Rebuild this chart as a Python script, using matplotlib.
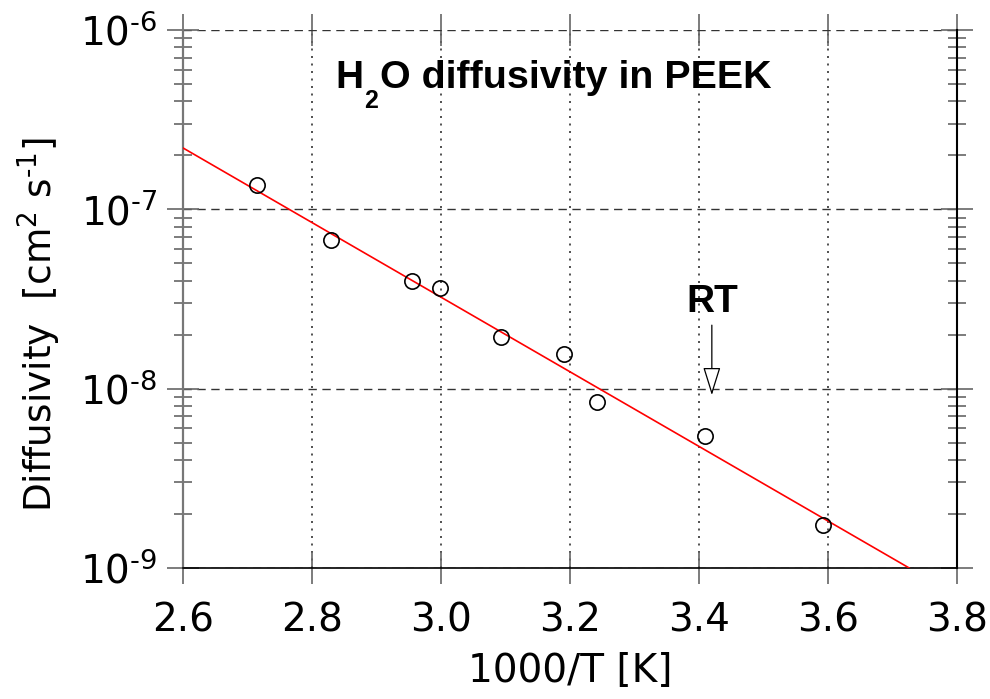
import numpy as np
import matplotlib.pyplot as plt
from matplotlib.ticker import LogLocator, NullFormatter, NullLocator, FixedLocator, FixedFormatter

# water diffusivity in PEEK vs inverse temperature (Arrhenius plot)
inv_T = [2.715, 2.829, 2.955, 2.998, 3.093, 3.191, 3.242, 3.409, 3.592]
diffusivity = [1.37e-7, 6.74e-8, 3.98e-8, 3.64e-8, 1.94e-8, 1.56e-8, 8.4e-9, 5.45e-9, 1.73e-9]

# arrhenius fit line end points
fit_inv_T = [2.6, 3.726]
fit_D = [2.2e-7, 1.0e-9]

x_ticks = [2.6, 2.8, 3.0, 3.2, 3.4, 3.6, 3.8]
x_ticklabels = ["2.6", "2.8", "3.0", "3.2", "3.4", "3.6", "3.8"]
y_ticks = [1e-9, 1e-8, 1e-7, 1e-6]
y_ticklabels = ["$10^{\u2010 9}$", "$10^{\u2010 8}$", "$10^{\u2010 7}$", "$10^{\u2010 6}$"]
rt_inv_T = 3.42

fig = plt.figure(figsize=(9.9, 6.99), dpi=100)
ax = fig.add_axes([0.1848, 0.1874, 0.7818, 0.7697])

ax.set_yscale("log")
ax.set_xlim(2.6, 3.8)
ax.set_ylim(1e-9, 1e-6)

ax.plot(fit_inv_T, fit_D, color="red", lw=1.2, zorder=3)
ax.plot(inv_T, diffusivity, "o", mfc="none", mec="black", ms=11, mew=1.2, zorder=4)

# grid: dashed horizontals, dotted verticals
ax.grid(axis="y", which="major", ls=(0, (6, 4)), color="#333333", lw=1)
ax.grid(axis="x", which="major", ls=(0, (1.2, 3.3)), color="#333333", lw=1.2)

ax.spines["top"].set_visible(False)
ax.spines["left"].set_color("#777777")
ax.spines["left"].set_linewidth(1.6)
ax.spines["right"].set_linewidth(1.5)
ax.spines["bottom"].set_linewidth(1.2)

ax.set_xticks(x_ticks)
ax.set_xticklabels(x_ticklabels)
ax.xaxis.set_minor_locator(NullLocator())
ax.yaxis.set_major_locator(FixedLocator(y_ticks))
ax.yaxis.set_major_formatter(FixedFormatter(y_ticklabels))
ax.yaxis.set_minor_locator(LogLocator(base=10, subs=np.arange(2, 10), numticks=20))
ax.yaxis.set_minor_formatter(NullFormatter())

ax.tick_params(axis="both", which="major", direction="inout", length=23, width=1.2,
               color="#666666", labelsize=28, pad=7)
ax.tick_params(axis="x", top=True, pad=12.5)
ax.tick_params(axis="y", which="both", right=True)
ax.tick_params(axis="y", which="minor", direction="inout", length=13, width=1.2, color="#666666")

ax.set_xlabel("1000/T [K]", fontsize=28, labelpad=9)
ax.set_ylabel("Diffusivity  [cm$^2$ s$^{\u2010 1}$]", fontsize=27)
ax.yaxis.set_label_coords(-0.155, 0.4535)

# title with lowered subscript
tkw = dict(family="Liberation Sans", weight="bold", color="black")
tH = fig.text(335 / 990, 1 - 88 / 699, "H", fontsize=28, va="baseline", **tkw)
t2 = ax.annotate("2", xy=(1, 699 - 108), xycoords=(tH, "figure pixels"),
                 xytext=(1, 0), textcoords="offset points",
                 fontsize=18, va="baseline", **tkw)
ax.annotate("O diffusivity in PEEK", xy=(1, 699 - 88), xycoords=(t2, "figure pixels"),
            xytext=(1, 0), textcoords="offset points",
            fontsize=28.4, va="baseline", **tkw)

# room temperature marker
ax.text(rt_inv_T, 2.67e-8, "RT", fontsize=28, ha="center", va="baseline", **tkw)
ax.annotate("", xy=(rt_inv_T, 9.2e-9), xytext=(rt_inv_T, 2.26e-8),
            arrowprops=dict(arrowstyle="-|>,head_length=0.8,head_width=0.25",
                            fc="white", ec="black", lw=0.9, mutation_scale=22,
                            shrinkA=0, shrinkB=0))

fig.savefig("out.png", dpi=100)
